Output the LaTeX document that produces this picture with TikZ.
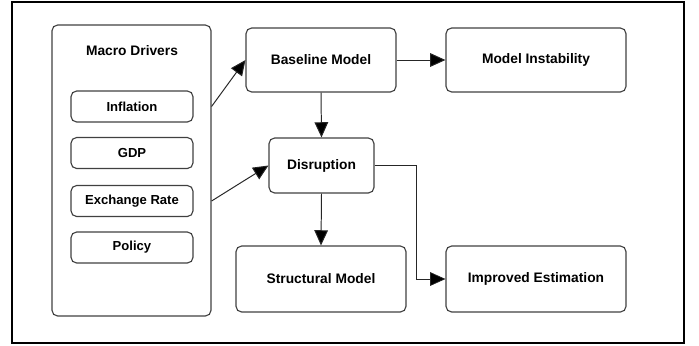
\documentclass[tikz,border=0pt]{standalone}
\usepackage{fontspec}
\setmainfont{Liberation Sans}
\usepackage{tikz}
\usetikzlibrary{arrows.meta}

\begin{document}
\begin{tikzpicture}[draw=black!85, font=\bfseries\fontsize{9.8}{12}\selectfont]
		\tikzstyle{box}=[rectangle, draw=black!75, line width=0.8pt, rounded corners=4pt, inner sep=0pt, align=center]
		\tikzstyle{driver}=[box, minimum width=3.05cm, minimum height=0.775cm, font=\bfseries\fontsize{9.3}{11}\selectfont]
		\tikzstyle{stage}=[box, minimum height=1.6cm]
		\tikzstyle{arr}=[-{Triangle[length=0.38cm,width=0.34cm,fill=black]}, line width=0.7pt]
		\tikzstyle{thin arr}=[arr, line width=0.5pt]
		
		\useasboundingbox (0,0) rectangle (17.475,-8.625);
		% outer frame
		\draw[black, line width=1pt] (0.3,-0.05) rectangle (17.1,-8.575);
		
		% Draw the macro drivers panel
		\node[box, minimum width=3.975cm, minimum height=7.275cm] (macro) at (3.2875,-4.2625) {};
		\node (macro-title) at (3.3,-1.275) {Macro Drivers};
		\foreach \name/\y/\txt in {infl/2.6625/Inflation, gdp/3.825/GDP, fx/5.025/Exchange Rate, pol/6.1875/Policy}
		\node[driver] (\name) at (3.3,-\y) {\txt};
		
		% Draw the model stages
		\node[stage, minimum width=3.75cm] (base) at (8.025,-1.5) {Baseline Model};
		\node[stage, minimum width=4.5cm] (instab) at (13.4,-1.5) {Model Instability};
		\node[box, minimum width=2.625cm, minimum height=1.375cm] (disr) at (8.0375,-4.1375) {Disruption};
		\node[box, minimum width=4.25cm, minimum height=1.65cm] (struct) at (8.025,-6.975) {Structural Model};
		\node[box, minimum width=4.5cm, minimum height=1.65cm] (improved) at (13.4,-6.975) {Improved Estimation};
		
		% Connect the drivers with the models
		\draw[arr] (infl -| macro.east) -- (base.west);
		\draw[arr] (fx -| macro.east) -- (disr.west);
		\draw[arr] (base.east) -- (instab.west);
		\draw[arr] (base.south) -- (disr.north);
		\draw[arr] (disr.south) -- (struct.north);
		
		% Elbow from the disruption to the improved estimation
		\coordinate (bend) at (10.4,-4.1375);
		\draw[thin arr] (disr.east) -- (bend) |- (improved.west);
	\end{tikzpicture}
\end{document}
